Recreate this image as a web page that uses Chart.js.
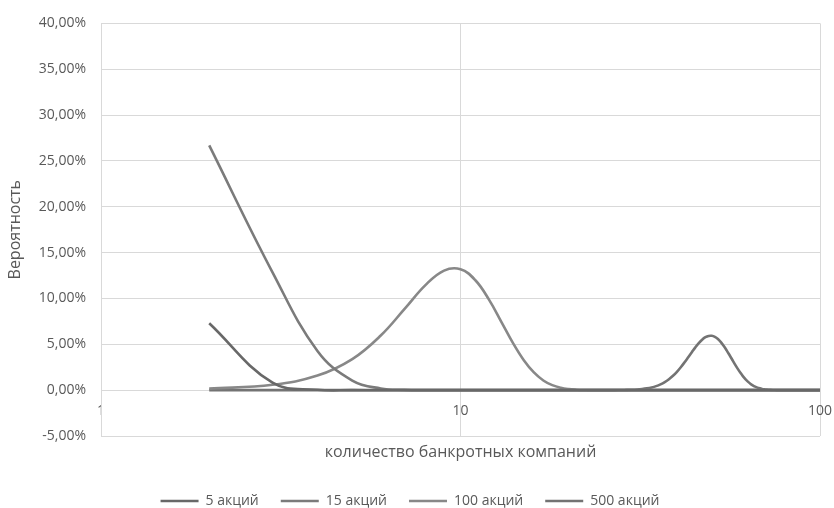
<!DOCTYPE html>
<html>
<head>
<meta charset="utf-8">
<script src="https://cdn.jsdelivr.net/npm/chart.js@4.4.0/dist/chart.umd.min.js"></script>
<style>
  html, body { margin: 0; padding: 0; background: #ffffff; }
  #wrap { width: 834px; height: 508px; position: relative; }
</style>
</head>
<body>
<div id="wrap"><canvas id="c" width="834" height="508"></canvas></div>
<script>
// Number of bankrupt companies (x axis, log scale)
const bankruptCounts = [2,3,4,5,6,7,8,9,10,11,12,13,14,15,16,17,18,19,20,21,22,23,24,25,26,27,28,29,30,31,32,33,34,35,36,37,38,39,40,41,42,43,44,45,46,47,48,49,50,51,52,53,54,55,56,57,58,59,60,61,62,63,64,65,66,67,68,69,70,71,72,73,74,75,76,77,78,79,80,81,82,83,84,85,86,87,88,89,90,91,92,93,94,95,96,97,98,99,100];

const seriesNames = ['5 акций', '15 акций', '100 акций', '500 акций'];

// Probabilities, in percent
const stocks5 = [7.29,0.81,0.045,0.001,0,0,0,0,0,0,0,0,0,0,0,0,0,0,0,0,0,0,0,0,0,0,0,0,0,0,0,0,0,0,0,0,0,0,0,0,0,0,0,0,0,0,0,0,0,0,0,0,0,0,0,0,0,0,0,0,0,0,0,0,0,0,0,0,0,0,0,0,0,0,0,0,0,0,0,0,0,0,0,0,0,0,0,0,0,0,0,0,0,0,0,0,0,0,0];
const stocks15 = [26.69,12.85,4.28,1.05,0.19,0.028,0.003,0.0003,0,0,0,0,0,0,0,0,0,0,0,0,0,0,0,0,0,0,0,0,0,0,0,0,0,0,0,0,0,0,0,0,0,0,0,0,0,0,0,0,0,0,0,0,0,0,0,0,0,0,0,0,0,0,0,0,0,0,0,0,0,0,0,0,0,0,0,0,0,0,0,0,0,0,0,0,0,0,0,0,0,0,0,0,0,0,0,0,0,0,0];
const stocks100 = [0.162,0.589,1.587,3.387,5.958,8.889,11.482,13.042,13.186,11.988,9.879,7.43,5.13,3.268,1.929,1.059,0.543,0.26,0.117,0.05,0.02,0.007,0.003,0.001,0.0003,0,0,0,0,0,0,0,0,0,0,0,0,0,0,0,0,0,0,0,0,0,0,0,0,0,0,0,0,0,0,0,0,0,0,0,0,0,0,0,0,0,0,0,0,0,0,0,0,0,0,0,0,0,0,0,0,0,0,0,0,0,0,0,0,0,0,0,0,0,0,0,0,0,0];
const stocks500 = [0,0,0,0,0,0,0,0,0,0,0,0,0,0,0,0,0,0,0,0,0,0,0,0.0019,0.0039,0.0076,0.0143,0.0258,0.045,0.0758,0.1235,0.1946,0.297,0.4394,0.6306,0.8786,1.1895,1.5657,2.005,2.4995,3.0351,3.5919,4.1452,4.6672,5.1294,5.5053,5.7729,5.9169,5.93,5.8137,5.5777,5.2386,4.8182,4.3413,3.8331,3.3175,2.8154,2.3435,1.9139,1.5339,1.2068,0.9322,0.7073,0.5271,0.386,0.2778,0.1966,0.1368,0.0936,0.063,0.0417,0.0272,0.0174,0.011,0.0068,0.0042,0.0025,0.0015,0.0009,0,0,0,0,0,0,0,0,0,0,0,0,0,0,0,0,0,0,0,0];

const xTickValues = [1, 10, 100];
const yTickMin = -5, yTickMax = 40, yTickStep = 5;

const seriesValues = [stocks5, stocks15, stocks100, stocks500];
const seriesColors = ['#686868', '#7b7b7b', '#888888', '#737373'];

const FONT = "'Open Sans', 'DejaVu Sans', sans-serif";
const TXT = '#595959';
const GRID = '#d9d9d9';

const datasets = seriesValues.map((vals, i) => ({
  label: seriesNames[i],
  data: bankruptCounts.map((x, j) => ({ x: x, y: vals[j] })),
  borderColor: seriesColors[i],
  backgroundColor: seriesColors[i],
  borderWidth: 2.6,
  pointRadius: 0,
  pointHoverRadius: 0,
  fill: false,
  tension: 0.4,
  xAxisID: 'x',
  yAxisID: 'y'
}));

new Chart(document.getElementById('c'), {
  type: 'line',
  data: { datasets: datasets },
  options: {
    responsive: false,
    animation: false,
    events: [],
    layout: { padding: { left: 0, right: 14, top: 10, bottom: -10 } },
    plugins: {
      tooltip: { enabled: false },
      legend: {
        position: 'bottom',
        labels: {
          usePointStyle: true,
          pointStyle: 'line',
          pointStyleWidth: 38,
          boxHeight: 3,
          padding: 22,
          color: TXT,
          font: { family: FONT, size: 14 }
        }
      }
    },
    scales: {
      x: {
        type: 'logarithmic',
        position: { y: 0 },
        min: 1,
        max: 100,
        afterBuildTicks: (axis) => { axis.ticks = xTickValues.map(v => ({ value: v })); },
        afterFit: (s) => { s.paddingLeft = 0; s.paddingRight = 0; },
        ticks: {
          color: TXT,
          font: { family: FONT, size: 14 },
          padding: 12,
          maxRotation: 0,
          autoSkip: false,
          callback: (v) => String(v)
        },
        grid: { color: GRID, lineWidth: 1, drawTicks: false },
        border: { color: GRID, width: 1 },
        title: { display: false }
      },
      x2: {
        type: 'linear',
        position: 'bottom',
        grid: { display: false, drawTicks: false },
        border: { display: false },
        ticks: { display: false },
        afterFit: (s) => { s.paddingLeft = 0; s.paddingRight = 0; s.height = 36; },
        title: {
          display: true,
          text: 'количество банкротных компаний',
          color: TXT,
          font: { family: FONT, size: 16 },
          padding: { top: 10, bottom: 10 }
        }
      },
      y: {
        type: 'linear',
        min: yTickMin,
        max: yTickMax,
        afterFit: (s) => { s.width = 101; },
        ticks: {
          stepSize: yTickStep,
          color: TXT,
          font: { family: FONT, size: 14 },
          padding: 15,
          callback: (v) => v.toFixed(2).replace('.', ',') + '%'
        },
        grid: { color: GRID, lineWidth: 1, drawTicks: false },
        border: { color: GRID, width: 1 },
        title: {
          display: true,
          text: 'Вероятность',
          color: TXT,
          font: { family: FONT, size: 16 },
          padding: { top: 6, bottom: 2 }
        }
      }
    }
  }
});
</script>
</body>
</html>
